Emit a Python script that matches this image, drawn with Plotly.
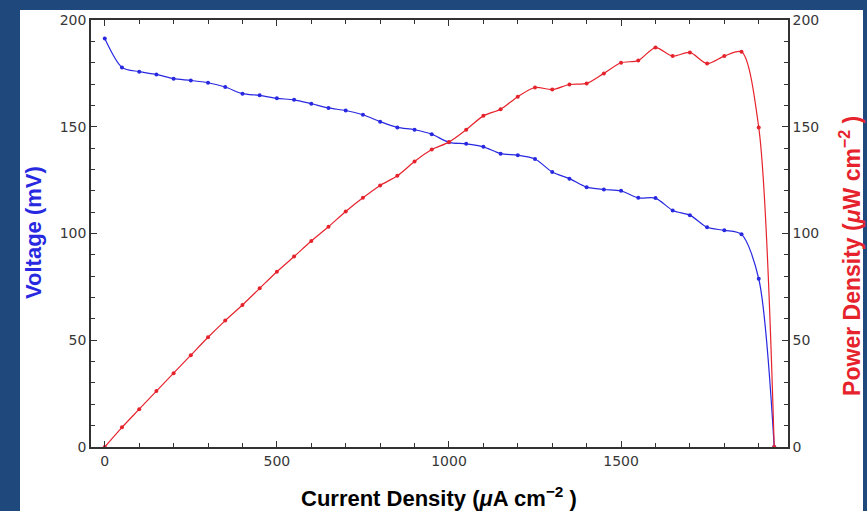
import plotly.graph_objects as go

current = [0, 50, 100, 150, 200, 250, 300, 350, 400, 450, 500, 550, 600, 650, 700, 750,
           800, 850, 900, 950, 1000, 1050, 1100, 1150, 1200, 1250, 1300, 1350, 1400, 1450,
           1500, 1550, 1600, 1650, 1700, 1750, 1800, 1850, 1900, 1945]
voltage = [191.3, 177.8, 175.8, 174.5, 172.5, 171.7, 170.6, 168.6, 165.5, 164.7, 163.3,
           162.6, 160.8, 158.8, 157.6, 155.6, 152.4, 149.7, 148.6, 146.5, 142.7, 142.0,
           140.6, 137.4, 136.7, 134.9, 128.8, 125.7, 121.7, 120.6, 120.0, 116.7, 116.6,
           110.8, 108.6, 102.9, 101.5, 99.6, 78.8, 0]
power = [0, 9.2, 17.7, 26.2, 34.6, 43.0, 51.4, 59.2, 66.5, 74.3, 82.1, 89.2, 96.5, 103.2,
         110.3, 116.7, 122.5, 127.0, 133.7, 139.3, 142.8, 148.6, 155.1, 158.2, 164.1, 168.4,
         167.4, 169.8, 170.3, 175.0, 180.0, 181.0, 187.1, 183.1, 184.8, 179.6, 183.1, 185.1,
         149.7, 0]

x_ticks = [0, 500, 1000, 1500]
y_ticks = [0, 50, 100, 150, 200]

BLUE = "rgb(40,40,225)"
RED = "rgb(230,35,45)"
BG = "rgb(31,73,125)"
AX = "rgb(50,50,50)"
FONT = "Arial, Liberation Sans, sans-serif"
TICKFONT = "DejaVu Sans, sans-serif"

fig = go.Figure()
fig.add_trace(go.Scatter(x=current, y=voltage, mode="lines+markers",
                         line=dict(color=BLUE, width=1.2, shape="spline", smoothing=0.8),
                         marker=dict(color=BLUE, size=4), yaxis="y", cliponaxis=False))
fig.add_trace(go.Scatter(x=current, y=power, mode="lines+markers",
                         line=dict(color=RED, width=1.2, shape="spline", smoothing=0.8),
                         marker=dict(color=RED, size=4), yaxis="y2", cliponaxis=False))

axis_common = dict(showline=True, linecolor=AX, linewidth=1.5, ticks="inside",
                   tickcolor=AX, ticklen=6, tickwidth=1, showgrid=False, zeroline=False,
                   tickfont=dict(family=TICKFONT, size=14, color="rgb(55,55,55)"))

fig.update_layout(
    width=867, height=511,
    margin=dict(l=91, r=79, t=18, b=64),
    paper_bgcolor=BG, plot_bgcolor="white",
    showlegend=False,
    xaxis=dict(range=[-40, 1985], tickvals=x_ticks, mirror="ticks",
               minor=dict(dtick=100, tick0=0, ticks="inside", ticklen=4, tickcolor=AX),
               **axis_common),
    yaxis=dict(range=[0, 200], tickvals=y_ticks,
               minor=dict(dtick=10, tick0=0, ticks="inside", ticklen=4, tickcolor=AX),
               **axis_common),
    yaxis2=dict(range=[0, 200], tickvals=y_ticks, overlaying="y", side="right",
                minor=dict(dtick=10, tick0=0, ticks="inside", ticklen=4, tickcolor=AX),
                **axis_common),
    shapes=[dict(type="rect", xref="paper", yref="paper",
                 x0=(20 - 91) / 697, x1=(863 - 91) / 697,
                 y0=-0.3, y1=(447 - 8) / 429,
                 fillcolor="white", line=dict(width=0), layer="below")],
    annotations=[
        dict(text="<b>Voltage (mV)</b>", xref="paper", yref="paper",
             x=(33 - 91) / 697, y=(447 - 232) / 429, textangle=-90, showarrow=False,
             xanchor="center", yanchor="middle",
             font=dict(family=FONT, size=22, color=BLUE)),
        dict(text="<b>Power Density (<i>μ</i>W cm<sup>−2</sup> )</b>", xref="paper", yref="paper",
             x=(850 - 91) / 697, y=(447 - 255) / 429, textangle=-90, showarrow=False,
             xanchor="center", yanchor="middle",
             font=dict(family=FONT, size=23, color=RED)),
        dict(text="<b>Current Density (<i>μ</i>A cm<sup>−2</sup> )</b>", xref="paper", yref="paper",
             x=(439 - 91) / 697, y=(447 - 497) / 429, showarrow=False,
             xanchor="center", yanchor="middle",
             font=dict(family=FONT, size=22, color="black")),
    ],
)

fig.write_html("out.html")
